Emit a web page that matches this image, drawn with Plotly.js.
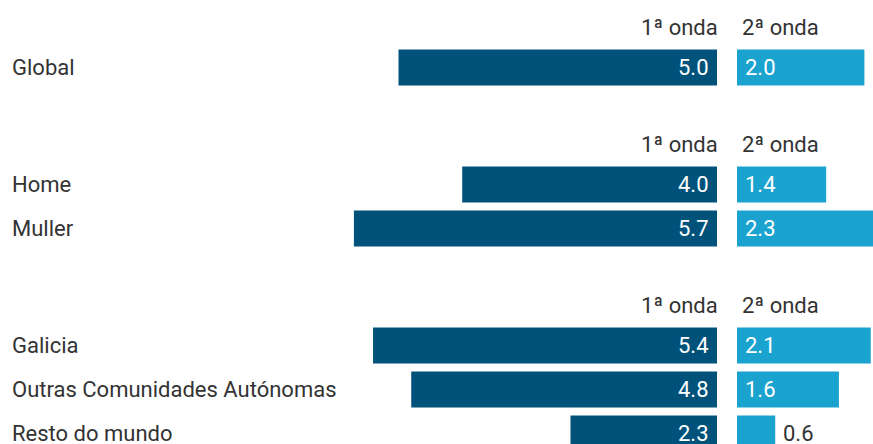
<!DOCTYPE html>
<html>
<head>
<meta charset="utf-8">
<script src="https://cdn.plot.ly/plotly-3.0.1.min.js"></script>
<style>html,body{margin:0;padding:0;background:#fff;}#chart{width:873px;height:444px;}</style>
</head>
<body>
<div id="chart"></div>
<script>
// ---- data ----
const groupSizes = [1, 2, 3];
const categories = ["Global", "Home", "Muller", "Galicia", "Outras Comunidades Autónomas", "Resto do mundo"];
const wave1 = [5.0, 4.0, 5.7, 5.4, 4.8, 2.3];
const wave2 = [2.0, 1.4, 2.3, 2.1, 1.6, 0.6];
const header1 = "1ª onda";
const header2 = "2ª onda";

// ---- layout helpers ----
const W = 873, H = 444;
const firstHeader = 27, headerToRow = 40.5, rowPitch = 44, rowToHeader = 76.5;
const leftBase = 717, rightBase = 737, pxPerUnit = 63.7;
const dark = "#00527a", light = "#1ba3d0", txt = "#333333";
const fontFam = "Roboto, 'Noto Sans', sans-serif";
const fs = 22;

const rowY = [], headerY = [];
let y = firstHeader;
groupSizes.forEach((n) => {
  headerY.push(y);
  y += headerToRow;
  for (let i = 0; i < n; i++) {
    rowY.push(y);
    if (i < n - 1) y += rowPitch;
  }
  y += rowToHeader;
});

const traces = [
  {type: "bar", orientation: "h", x: wave1, y: rowY, width: 36, xaxis: "x", yaxis: "y",
   marker: {color: dark, line: {width: 0}}, hoverinfo: "none"},
  {type: "bar", orientation: "h", x: wave2, y: rowY, width: 36, xaxis: "x2", yaxis: "y",
   marker: {color: light, line: {width: 0}}, hoverinfo: "none"}
];

const annotations = [];
const f = (s, c) => ({family: fontFam, size: s, color: c});
categories.forEach((c, i) => {
  annotations.push({text: c, xref: "paper", yref: "y", x: 10 / W, y: rowY[i], xanchor: "left", yanchor: "middle",
    showarrow: false, font: f(fs, txt)});
  annotations.push({text: wave1[i].toFixed(1), xref: "x", yref: "y", x: 0, y: rowY[i], xanchor: "right", yanchor: "middle",
    xshift: -6, showarrow: false, font: f(fs, "#ffffff")});
  const inside = wave2[i] >= 1;
  annotations.push({text: wave2[i].toFixed(1), xref: "x2", yref: "y", x: inside ? 0 : wave2[i], y: rowY[i], xanchor: "left", yanchor: "middle",
    xshift: 6, showarrow: false, font: f(fs, inside ? "#ffffff" : txt)});
});
headerY.forEach(hy => {
  annotations.push({text: header1, xref: "x", yref: "y", x: 0, y: hy, xanchor: "right", yanchor: "middle",
    xshift: 3, showarrow: false, font: f(fs, txt)});
  annotations.push({text: header2, xref: "x2", yref: "y", x: 0, y: hy, xanchor: "left", yanchor: "middle",
    xshift: 3, showarrow: false, font: f(fs, txt)});
});

const layout = {
  width: W, height: H,
  margin: {l: 0, r: 0, t: 0, b: 0, pad: 0},
  paper_bgcolor: "#fff", plot_bgcolor: "#fff",
  showlegend: false,
  barmode: "overlay",
  xaxis: {domain: [0, leftBase / W], range: [leftBase / pxPerUnit, 0], visible: false, fixedrange: true},
  xaxis2: {domain: [rightBase / W, 1], range: [0, (W - rightBase) / pxPerUnit], visible: false, fixedrange: true},
  yaxis: {range: [H, 0], visible: false, fixedrange: true},
  annotations: annotations
};

Plotly.newPlot("chart", traces, layout, {staticPlot: true, displayModeBar: false});
</script>
</body>
</html>
